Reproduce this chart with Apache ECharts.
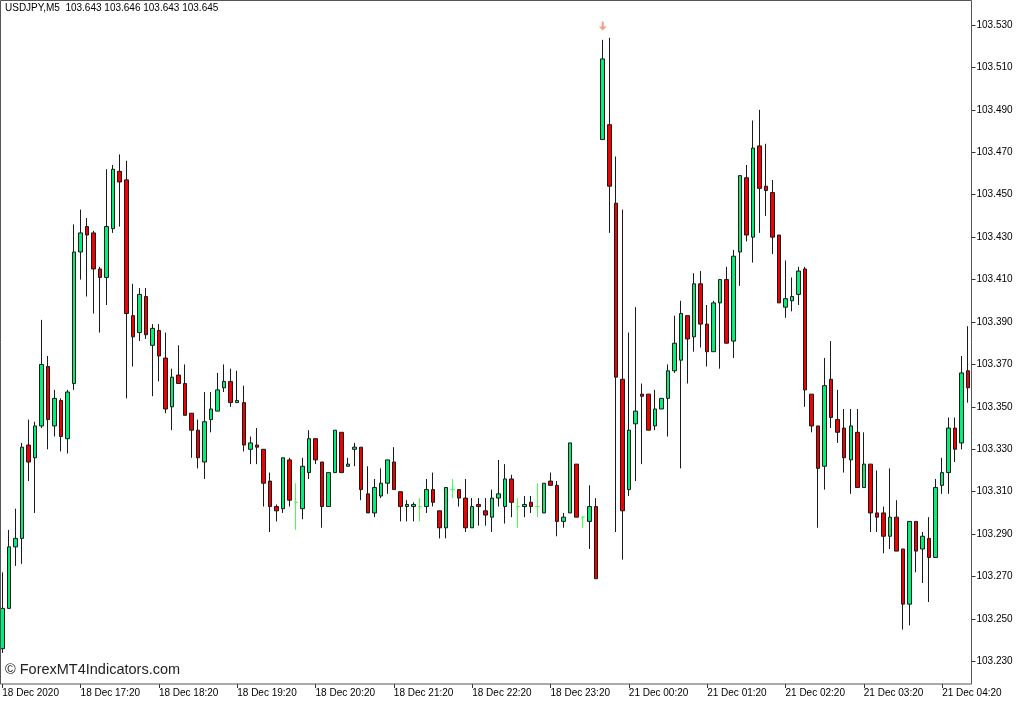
<!DOCTYPE html>
<html><head><meta charset="utf-8">
<script src="https://cdn.jsdelivr.net/npm/echarts@6/dist/echarts.min.js"></script>
<style>html,body{margin:0;padding:0;background:#fff}#c{width:1024px;height:704px}</style>
</head><body><div id="c"></div>
<script>
// USDJPY M5 candles (one per 5 minutes)
const opens = [
103.236,103.255,103.284,103.288,103.332,103.326,103.341,103.369,103.341,103.353,
103.335,103.361,103.423,103.435,103.432,103.415,103.411,103.434,103.461,103.457,
103.393,103.385,103.402,103.379,103.386,103.373,103.350,103.365,103.361,103.347,
103.339,103.324,103.344,103.348,103.359,103.362,103.352,103.352,103.330,103.332,
103.330,103.315,103.303,103.302,103.325,103.305,103.302,103.319,103.335,103.324,
103.303,103.319,103.338,103.322,103.330,103.331,103.309,103.300,103.308,103.314,
103.324,103.310,103.303,103.303,103.303,103.303,103.311,103.301,103.293,103.311,
103.311,103.307,103.293,103.304,103.301,103.298,103.307,103.303,103.316,103.303,
103.303,103.305,103.303,103.300,103.315,103.313,103.296,103.300,103.323,103.298,
103.296,103.303,103.476,103.483,103.446,103.363,103.311,103.342,103.356,103.356,
103.341,103.349,103.354,103.367,103.372,103.393,103.383,103.408,103.389,103.376,
103.399,103.410,103.381,103.423,103.458,103.430,103.473,103.454,103.451,103.431,
103.397,103.400,103.403,103.415,103.356,103.341,103.322,103.363,103.344,103.340,
103.325,103.338,103.312,103.323,103.300,103.300,103.289,103.298,103.283,103.257,
103.296,103.283,103.288,103.279,103.313,103.319,103.340,103.333,103.367];
const highs = [
103.272,103.292,103.302,103.333,103.344,103.343,103.391,103.374,103.358,103.354,
103.358,103.436,103.443,103.439,103.433,103.416,103.462,103.464,103.469,103.466,
103.408,103.406,103.406,103.389,103.389,103.385,103.368,103.379,103.370,103.347,
103.344,103.357,103.357,103.366,103.370,103.368,103.367,103.360,103.336,103.340,
103.330,103.319,103.304,103.326,103.326,103.314,103.326,103.339,103.335,103.324,
103.319,103.339,103.338,103.326,103.333,103.331,103.322,103.316,103.321,103.325,
103.331,103.310,103.306,103.305,103.307,103.316,103.319,103.301,103.312,103.316,
103.311,103.316,103.307,103.307,103.307,103.311,103.325,103.323,103.318,103.307,
103.308,103.308,103.314,103.314,103.319,103.315,103.300,103.333,103.323,103.298,
103.313,103.307,103.523,103.524,103.468,103.443,103.385,103.397,103.361,103.356,
103.358,103.354,103.370,103.393,103.400,103.393,103.413,103.414,103.398,103.400,
103.410,103.416,103.424,103.459,103.464,103.485,103.490,103.474,103.457,103.431,
103.419,103.411,103.416,103.416,103.356,103.341,103.373,103.381,103.358,103.349,
103.349,103.349,103.338,103.323,103.320,103.303,103.321,103.306,103.283,103.296,
103.296,103.291,103.298,103.316,103.326,103.345,103.345,103.374,103.388];
const lows = [
103.234,103.255,103.275,103.276,103.315,103.300,103.340,103.330,103.336,103.329,
103.328,103.358,103.410,103.402,103.394,103.385,103.398,103.432,103.435,103.354,
103.369,103.381,103.382,103.355,103.362,103.347,103.339,103.361,103.346,103.326,
103.321,103.316,103.338,103.348,103.357,103.350,103.352,103.329,103.323,103.323,
103.303,103.291,103.296,103.300,103.303,103.292,103.297,103.316,103.323,103.293,
103.303,103.319,103.319,103.322,103.322,103.306,103.300,103.298,103.307,103.309,
103.311,103.296,103.296,103.296,103.296,103.300,103.303,103.288,103.288,103.307,
103.303,103.291,103.293,103.294,103.294,103.291,103.303,103.295,103.298,103.293,
103.298,103.300,103.298,103.300,103.313,103.289,103.293,103.300,103.298,103.293,
103.283,103.269,103.476,103.432,103.291,103.278,103.308,103.315,103.323,103.339,
103.339,103.349,103.336,103.366,103.321,103.361,103.376,103.378,103.369,103.376,
103.368,103.380,103.373,103.407,103.428,103.418,103.432,103.440,103.422,103.399,
103.392,103.395,103.398,103.350,103.338,103.293,103.311,103.340,103.333,103.319,
103.309,103.312,103.312,103.291,103.291,103.281,103.283,103.282,103.245,103.247,
103.272,103.267,103.258,103.279,103.309,103.309,103.324,103.330,103.352];
const closes = [
103.255,103.284,103.288,103.331,103.324,103.341,103.370,103.344,103.354,103.336,
103.357,103.423,103.432,103.431,103.415,103.411,103.435,103.462,103.456,103.394,
103.383,103.403,103.384,103.387,103.374,103.349,103.364,103.361,103.346,103.339,
103.326,103.343,103.349,103.358,103.362,103.352,103.353,103.332,103.333,103.331,
103.314,103.303,103.301,103.326,103.306,103.305,103.322,103.335,103.325,103.303,
103.319,103.339,103.319,103.323,103.331,103.311,103.300,103.312,103.314,103.325,
103.311,103.303,103.304,103.304,103.303,103.311,103.305,103.293,103.312,103.311,
103.307,103.293,103.303,103.303,103.299,103.307,103.309,103.316,103.305,103.303,
103.304,103.303,103.303,103.314,103.313,103.296,103.298,103.333,103.298,103.298,
103.303,103.269,103.514,103.454,103.364,103.301,103.339,103.348,103.355,103.339,
103.349,103.354,103.367,103.380,103.394,103.382,103.408,103.389,103.376,103.399,
103.410,103.380,103.421,103.459,103.431,103.472,103.453,103.452,103.430,103.399,
103.401,103.402,103.414,103.358,103.341,103.321,103.360,103.345,103.338,103.326,
103.341,103.312,103.323,103.300,103.298,103.289,103.298,103.282,103.257,103.296,
103.282,103.289,103.279,103.312,103.319,103.340,103.330,103.366,103.359];
// candles whose open equals close (drawn as lime crosses)
const dojiIndexes = [45, 64, 69, 79, 82, 89];
// bottom time labels, one every 12 candles
const tickLabels = ['18 Dec 2020','18 Dec 17:20','18 Dec 18:20','18 Dec 19:20','18 Dec 20:20',
  '18 Dec 21:20','18 Dec 22:20','18 Dec 23:20','21 Dec 00:20','21 Dec 01:20','21 Dec 02:20',
  '21 Dec 03:20','21 Dec 04:20'];
const priceTicks = [103.230,103.250,103.270,103.290,103.310,103.330,103.350,103.370,
  103.390,103.410,103.430,103.450,103.470,103.490,103.510,103.530];
const signalIndex = 92, signalPrice = 103.5295;
const headerText = 'USDJPY,M5  103.643 103.646 103.643 103.645';
const watermark = '\u00A9 ForexMT4Indicators.com';

const categories = opens.map((_, i) => String(i));
const DOJI = '#44FF44';
const data = opens.map((o, i) => {
  const c = closes[i];
  const lo = Math.min(lows[i], o, c), hi = Math.max(highs[i], o, c);
  const item = { value: [o, c, lo, hi] };
  if (dojiIndexes.includes(i)) {
    item.itemStyle = { color: DOJI, color0: DOJI, borderColor: DOJI, borderColor0: DOJI, borderColorDoji: DOJI };
  }
  return item;
});

const chart = echarts.init(document.getElementById('c'), null, { renderer: 'canvas' });
const FONT = 'Liberation Sans, Arial, sans-serif';
chart.setOption({
  animation: false,
  backgroundColor: '#ffffff',
  grid: { left: -1, top: 1, width: 972.5, height: 683, containLabel: false, outerBoundsMode: 'none' },
  xAxis: {
    type: 'category', data: categories, boundaryGap: true,
    axisLine: { show: false },
    axisTick: { show: true, alignWithLabel: true, length: 4, interval: (i) => i % 12 === 0,
      lineStyle: { color: '#333', width: 1 } },
    axisLabel: { interval: (i) => i % 12 === 0, formatter: (v, i) => tickLabels[i / 12] || '',
      align: 'left', margin: 4, fontSize: 10, fontFamily: FONT, color: '#000' },
    splitLine: { show: false }
  },
  yAxis: {
    type: 'value', position: 'right', scale: true,
    min: 103.21936, max: 103.54131,
    axisLine: { show: false },
    splitLine: { show: false },
    axisTick: { show: true, length: 4, customValues: priceTicks, lineStyle: { color: '#333' } },
    axisLabel: { customValues: priceTicks, formatter: (v) => v.toFixed(3), margin: 5,
      fontSize: 10, fontFamily: FONT, color: '#000' }
  },
  series: [{
    type: 'candlestick', data: data, barWidth: 4,
    itemStyle: { color: '#00EE7A', color0: '#F00000', borderColor: '#1a1a1a', borderColor0: '#1a1a1a',
      borderColorDoji: DOJI, borderWidth: 1 }
  }, {
    type: 'scatter', data: [[signalIndex, signalPrice]],
    symbol: 'path://M3,0 L5,0 L5,5 L8,5 L4,9 L0,5 L3,5 Z', symbolSize: [8, 9],
    itemStyle: { color: '#F4826A' }, z: 5
  }],
  graphic: [
    { type: 'rect', shape: { x: 0.5, y: 0.5, width: 971, height: 683.5 },
      style: { fill: 'none', stroke: '#555', lineWidth: 1 }, z: 100, silent: true },
    { type: 'text', left: 5, top: 3, style: { text: headerText, font: '10px ' + FONT, fill: '#000' }, z: 100 },
    { type: 'text', left: 5, top: 662, style: { text: watermark, font: '14.5px ' + FONT, fill: '#222' }, z: 100 }
  ]
});
</script></body></html>
